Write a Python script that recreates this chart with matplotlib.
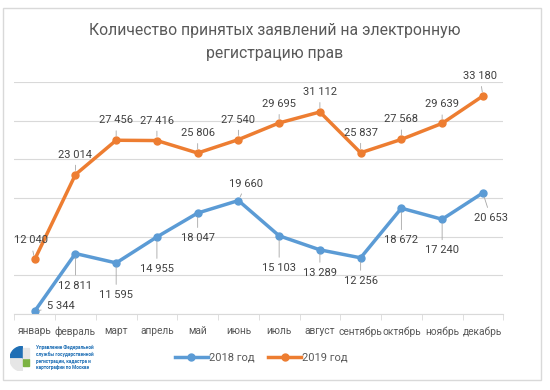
import matplotlib.pyplot as plt
from matplotlib.patches import Wedge, Rectangle

plt.rcParams['font.family'] = ['Liberation Sans Narrow', 'Roboto', 'DejaVu Sans']

months = ['январь', 'февраль', 'март', 'апрель', 'май', 'июнь', 'июль',
          'август', 'сентябрь', 'октябрь', 'ноябрь', 'декабрь']
y2018 = [5344, 12811, 11595, 14955, 18047, 19660, 15103, 13289, 12256, 18672, 17240, 20653]
y2019 = [12040, 23014, 27456, 27416, 25806, 27540, 29695, 31112, 25837, 27568, 29639, 33180]

# label offsets in pixels (dx, dy, ha), screen coordinates, y up
off2019 = [(-4, 19, 'center'), (0, 20, 'center'), (0, 20, 'center'), (0, 20, 'center'),
           (0, 20, 'center'), (0, 20, 'center'), (0, 19, 'center'), (0, 20, 'center'),
           (0, 20, 'center'), (0, 20, 'center'), (0, 19, 'center'), (-3, 20, 'center')]
off2018 = [(12, 5, 'left'), (0, -32, 'center'), (0, -32, 'center'), (0, -32, 'center'),
           (0, -25, 'center'), (8, 17, 'center'), (0, -32, 'center'), (0, -23, 'center'),
           (0, -23, 'center'), (0, -32, 'center'), (0, -31, 'center'), (8, -25, 'center')]

blue = '#5B9BD5'
orange = '#ED7D31'

fig = plt.figure(figsize=(5.5, 3.9), dpi=100)
fig.patches.append(Rectangle((0.006, 0.025), 0.978, 0.955, transform=fig.transFigure,
                             fill=False, edgecolor='#D9D9D9', lw=1))
ax = fig.add_axes([0.026, 0.195, 0.889, 0.595])

x = list(range(len(months)))
ax.plot(x, y2018, color=blue, lw=2.5, marker='o', ms=5, label='2018 год')
ax.plot(x, y2019, color=orange, lw=2.5, marker='o', ms=5, label='2019 год')

px = 72 / 100
for xs, ys, offs in [(x, y2018, off2018), (x, y2019, off2019)]:
    for xi, yi, (dx, dy, ha) in zip(xs, ys, offs):
        txt = f'{yi:,}'.replace(',', ' ')
        ax.annotate(txt, xy=(xi, yi), xycoords='data',
                    xytext=(dx * px, dy * px), textcoords='offset points',
                    ha=ha, va='center', fontsize=8, color='#404040',
                    annotation_clip=False,
                    arrowprops=dict(arrowstyle='-', color='#A6A6A6', lw=0.6,
                                    shrinkA=2, shrinkB=3))

ax.set_xlim(-0.5, 11.5)
ax.set_ylim(5000, 35000)
ax.set_yticks(range(5000, 35001, 5000))
ax.yaxis.grid(True, color='#D9D9D9', lw=0.8)
ax.set_axisbelow(True)
ax.tick_params(axis='y', left=False, labelleft=False)
ax.set_xticks(x)
ax.set_xticklabels(months, fontsize=7.3, color='#595959')
ax.set_xticks([i + 0.5 for i in range(-1, 12)], minor=True)
ax.tick_params(axis='x', which='minor', length=4, color='#D9D9D9')
ax.tick_params(axis='x', which='major', length=0, pad=9)
for s in ['top', 'right', 'left']:
    ax.spines[s].set_visible(False)
ax.spines['bottom'].set_color('#D9D9D9')

fig.text(0.5, 0.893, 'Количество принятых заявлений на электронную\nрегистрацию прав',
         ha='center', va='center', fontsize=11.3, color='#595959', linespacing=1.7)

fig.legend(loc='center', bbox_to_anchor=(0.475, 0.083), ncol=2, frameon=False,
           fontsize=8, handlelength=3, columnspacing=1.2, handletextpad=0.1,
           labelcolor='#595959')

# logo
lax = fig.add_axes([0.018, 0.035, 0.045, 0.09])
lax.set_xlim(-1, 1)
lax.set_ylim(-1, 1)
lax.set_aspect('equal')
lax.axis('off')
lax.add_patch(Wedge((0, 0), 1, 90, 180, color='#1F6FB5'))
lax.add_patch(Wedge((0, 0), 1, 180, 270, color='#E6E6E6'))
lax.add_patch(Rectangle((0.05, -0.55), 0.5, 0.5, color='#7CB342'))
lax.add_patch(Rectangle((0.05, 0.05), 0.5, 0.8, color='#E6E6E6'))
fig.text(0.066, 0.083, 'Управление Федеральной\nслужбы государственной\nрегистрации, кадастра и\nкартографии по Москве',
         ha='left', va='center', fontsize=3.4, color='#1F6FB5', linespacing=1.3,
         fontweight='bold')

fig.savefig('out.png', dpi=100)
